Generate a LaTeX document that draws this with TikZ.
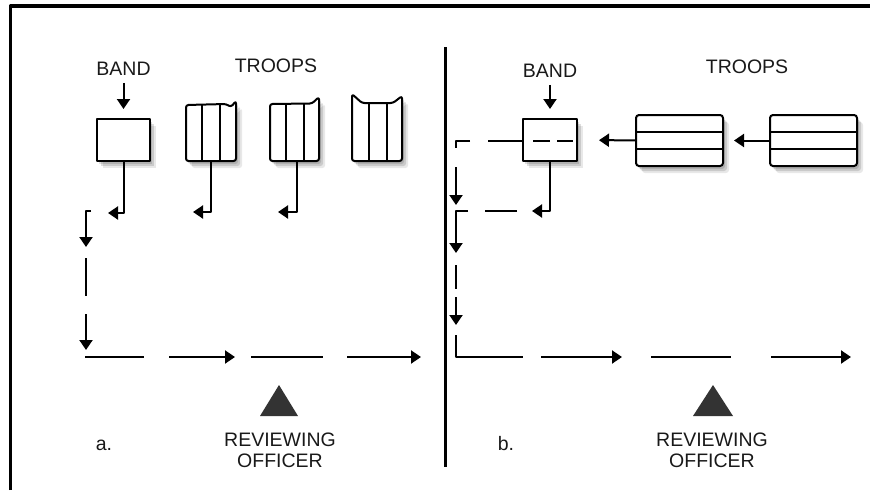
\documentclass[tikz,border=0pt]{standalone}
\usepackage{fontspec}
\setmainfont{Liberation Sans}
\usetikzlibrary{arrows.meta}
\tikzset{
  shade/.style={
    preaction={fill=black, opacity=.13, transform canvas={xshift=2pt,yshift=-3pt}},
    preaction={fill=black, opacity=.13, transform canvas={xshift=4pt,yshift=-5pt}},
    preaction={fill=black, opacity=.09, transform canvas={xshift=6pt,yshift=-7pt}}},
  boxed/.style={shade, draw, fill=white, line width=2pt},
  route/.style={line width=2pt},
  lbl/.style={text=black!90, inner sep=0pt, font=\fontsize{19.5}{21.5}\selectfont},
}
\begin{document}
\begin{tikzpicture}[x=1pt,y=-1pt,>={Triangle[length=10pt,width=13pt]}, line join=round]
  \useasboundingbox (0,0) rectangle (870,490);
  % Khung
  \draw[line width=3.5pt] (10.5,490) -- (10.5,6) -- (870,6);
  \draw[line width=3pt] (445,47) -- (445,467);
  % a.
  \node[lbl] (bandalbl) at (123.5,69) {BAND};
  \node[lbl] (troopsalbl) at (276,66) {TROOPS};
  \node[boxed, minimum width=53pt, minimum height=42pt, inner sep=0pt] (banda) at (123.5,140) {};
  \draw[route,->,shorten <=7pt,shorten >=9pt] (bandalbl.south) -- (banda.north);
  \draw[boxed, rounded corners=2.5pt] (186,105) -- (186,161) -- (236,161) -- (236,101) -- (231,107) -- (226,104) -- cycle;
  \draw[boxed, rounded corners=2.5pt] (270,104) -- (270,161) -- (319,161) -- (319,97) -- (312,103.5) -- cycle;
  \draw[boxed, rounded corners=2.5pt] (352,94) -- (352,161) -- (402,161) -- (402,96) -- (393,103) -- (362,103) -- cycle;
  \draw[route] (202,104.5) -- (202,161) (220,104.3) -- (220,161);
  \draw[route] (286,104) -- (286,161) (304,103.8) -- (304,161);
  \draw[route] (369,103) -- (369,161) (387,103) -- (387,161);
  \coordinate (cola1) at (210.5,161);
  \coordinate (cola2) at (297,161);
  \draw[route,->] (banda.south) |- ++(-15.5,51);
  \draw[route,->] (cola1) |- ++(-17.5,51);
  \draw[route,->] (cola2) |- ++(-19,51);
  \draw[route,->] (91,211) -- (86,211) -- (86,247);
  \draw[route] (86,258) -- (86,296);
  \draw[route,->] (86,314) -- (86,350);
  \foreach \s/\e in {85/144,251/323} \draw[route] (\s,357) -- (\e,357);
  \foreach \s/\e in {169/235,347/421} \draw[route,->] (\s,357) -- (\e,357);
  \fill[black!80] (279,385) -- (298,416) -- (260,416) -- cycle;
  \node[lbl, align=center, anchor=north] (officera) at (280,432.5) {REVIEWING\\OFFICER};
  \node[lbl] (taga) at (104,445) {a.};
  % b.
  \node[lbl] (bandblbl) at (550,71) {BAND};
  \node[lbl] (troopsblbl) at (747,67) {TROOPS};
  \node[boxed, minimum width=54pt, minimum height=42pt, inner sep=0pt] (bandb) at (550,140) {};
  \draw[route,->,shorten <=7pt,shorten >=9pt] (bandblbl.south) -- (bandb.north);
  \node[boxed, rounded corners=3pt, minimum width=87pt, minimum height=51pt, inner sep=0pt] (troopb1) at (679.5,140.5) {};
  \node[boxed, rounded corners=3pt, minimum width=87pt, minimum height=51pt, inner sep=0pt] (troopb2) at (813.5,140.5) {};
  \foreach \t in {troopb1,troopb2}
    \draw[route] (\t.west) ++(0,-8.5) -- ++(87,0) (\t.west) ++(0,8.5) -- ++(87,0);
  \draw[route,->,shorten >=10pt] (troopb2) -- (troopb1);
  \draw[route,->,shorten >=21pt] (troopb1) -- (bandb);
  \draw[route] (557,141) -- (573,141) (533,141) -- (550,141);
  \draw[route] (bandb.west) ++(0,1) -- (488,141);
  \draw[route] (470,141) -- (456,141) -- (456,148);
  \draw[route,->] (456,167) -- (456,205);
  \draw[route,->] (bandb.south) |- (532,211);
  \draw[route] (517,211) -- (485,211);
  \draw[route,->] (468,211) -- (456,211) -- (456,253);
  \draw[route] (456,265) -- (456,289);
  \draw[route,->] (456,297) -- (456,325);
  \draw[route] (456,335) -- (456,357) -- (523,357);
  \foreach \s/\e in {541/622,771/851} \draw[route,->] (\s,357) -- (\e,357);
  \draw[route] (651,357) -- (731,357);
  \fill[black!80] (713,385) -- (733,416) -- (693,416) -- cycle;
  \node[lbl, align=center, anchor=north] (officerb) at (712,432.5) {REVIEWING\\OFFICER};
  \node[lbl] (tagb) at (506,444) {b.};
\end{tikzpicture}
\end{document}
